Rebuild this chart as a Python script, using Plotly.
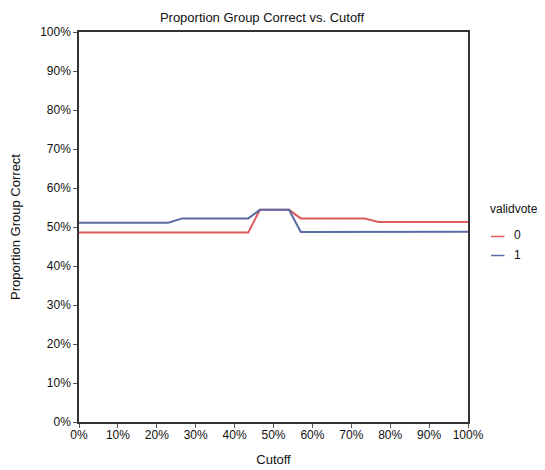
import plotly.graph_objects as go

cutoff = [0.0, 0.23, 0.265, 0.435, 0.465, 0.54, 0.57, 0.735, 0.77, 1.0]
group_0 = [0.486, 0.486, 0.486, 0.486, 0.544, 0.544, 0.522, 0.522, 0.513, 0.513]
group_1 = [0.511, 0.511, 0.522, 0.522, 0.544, 0.544, 0.487, 0.487, 0.487, 0.488]
series_names = ["0", "1"]
legend_title = "validvote"
colors = ["#dd5c5c", "#5b6ba3"]
tick_vals = [i / 10 for i in range(11)]

# figure geometry (page has an 8px body margin)
W, H = 537, 462
ML, MR, MT, MB = 71, 77, 24, 48
PW, PH = W - ML - MR, H - MT - MB


def px(xf):
    return (xf - ML) / PW


def py(yf):
    return (H - MB - yf) / PH


fig = go.Figure()
for name, ys, c in zip(series_names, [group_0, group_1], colors):
    fig.add_trace(go.Scatter(x=cutoff, y=ys, mode="lines", name=name,
                             line=dict(color=c, width=2), showlegend=False))

axis_common = dict(range=[0, 1], tickvals=tick_vals, tickformat=".0%",
                   showgrid=False, zeroline=False, showline=True,
                   linecolor="#333333", linewidth=1.5, mirror=True,
                   ticks="outside", ticklen=4, tickcolor="#555555",
                   automargin=False,
                   tickfont=dict(size=12, color="#111111"))

# custom legend (compact line samples like the reference)
fig.add_annotation(text=legend_title, xref="paper", yref="paper", x=px(480), y=py(201),
                   xanchor="left", yanchor="middle", showarrow=False,
                   font=dict(size=12, color="#111111"))
item_y = [228.5, 247.5]
for name, c, yy in zip(series_names, colors, item_y):
    fig.add_shape(type="line", xref="paper", yref="paper", x0=px(483), x1=px(496.5),
                  y0=py(yy), y1=py(yy), line=dict(color=c, width=1.5))
    fig.add_annotation(text=name, xref="paper", yref="paper", x=px(504), y=py(yy - 1),
                       xanchor="left", yanchor="middle", showarrow=False,
                       font=dict(size=12, color="#111111"))

fig.update_layout(
    width=W, height=H,
    margin=dict(l=ML, r=MR, t=MT, b=MB, autoexpand=False),
    paper_bgcolor="white", plot_bgcolor="white",
    font=dict(family="Liberation Sans, Arial, sans-serif", color="#111111"),
    title=dict(text="Proportion Group Correct vs. Cutoff", x=254 / W, xanchor="center",
               y=1 - 9 / H, yanchor="middle", font=dict(size=13)),
    xaxis=dict(title=dict(text="Cutoff", font=dict(size=13), standoff=14),
               ticklabelstandoff=-3, **axis_common),
    yaxis=dict(title=dict(text="Proportion Group Correct", font=dict(size=13), standoff=25),
               **axis_common),
    showlegend=False,
)

fig.write_html("out.html")
